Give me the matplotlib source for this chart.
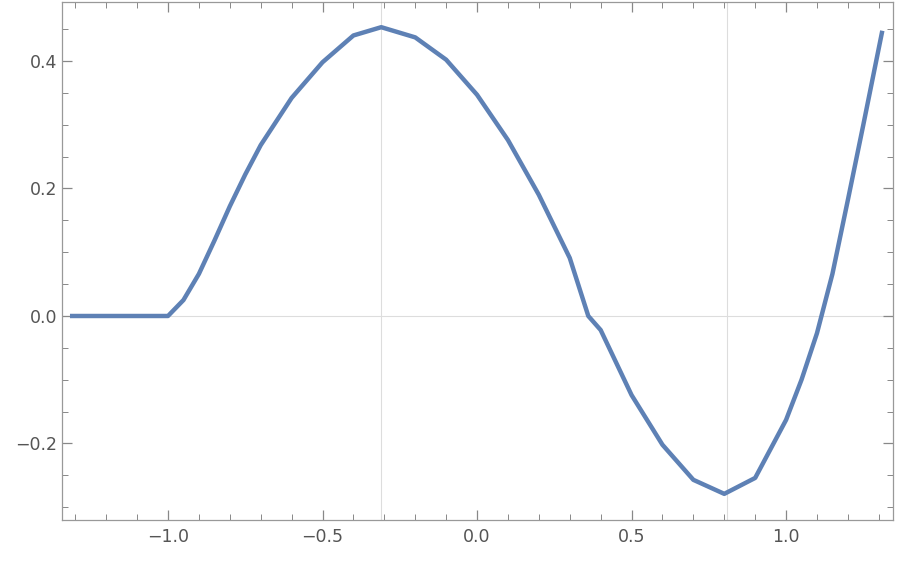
import matplotlib
matplotlib.use("Agg")
import matplotlib.pyplot as plt
from matplotlib.ticker import MultipleLocator

x = [-1.31, -1.0, -0.95, -0.9, -0.85, -0.8, -0.75, -0.7, -0.6, -0.5, -0.4, -0.31, -0.2, -0.1, 0.0,
     0.1, 0.2, 0.3, 0.36, 0.4, 0.5, 0.6, 0.7, 0.8, 0.9, 1.0, 1.05, 1.1, 1.15, 1.2, 1.25, 1.31]
y = [0.0, 0.0, 0.025, 0.066, 0.118, 0.172, 0.222, 0.268, 0.342, 0.398, 0.440, 0.453, 0.437, 0.402, 0.347,
     0.276, 0.190, 0.091, 0.0, -0.022, -0.124, -0.202, -0.257, -0.279, -0.254, -0.163, -0.100, -0.027, 0.066, 0.182, 0.300, 0.444]

fig = plt.figure(figsize=(9.02, 5.64), dpi=100)
ax = fig.add_axes([62/902, 44/564, 831/902, 518/564])
ax.plot(x, y, color="#5E81B5", lw=3.2, solid_joinstyle="round", zorder=3)
for gx in [-0.31, 0.81]:
    ax.axvline(gx, color="#dddddd", lw=0.8, zorder=1)
ax.axhline(0, color="#dddddd", lw=0.8, zorder=1)
ax.set_xlim(-1.343, 1.346)
ax.set_ylim(-0.32, 0.4925)
ax.xaxis.set_major_locator(MultipleLocator(0.5))
ax.xaxis.set_minor_locator(MultipleLocator(0.1))
ax.yaxis.set_major_locator(MultipleLocator(0.2))
ax.yaxis.set_minor_locator(MultipleLocator(0.05))
ax.xaxis.set_major_formatter(matplotlib.ticker.FuncFormatter(lambda v, p: f"{v:.1f}".replace("-", "\u2212")))
ax.yaxis.set_major_formatter(matplotlib.ticker.FuncFormatter(lambda v, p: f"{v:.1f}".replace("-", "\u2212")))
ax.tick_params(which="both", direction="in", top=True, right=True, colors="#888888",
               labelcolor="#555555", labelsize=12.5)
ax.tick_params(which="major", length=7, width=0.9)
ax.tick_params(which="minor", length=4, width=0.7)
ax.tick_params(axis="x", pad=6)
for s in ax.spines.values():
    s.set_color("#999999")
    s.set_linewidth(0.9)
fig.savefig("out.png", dpi=100)
